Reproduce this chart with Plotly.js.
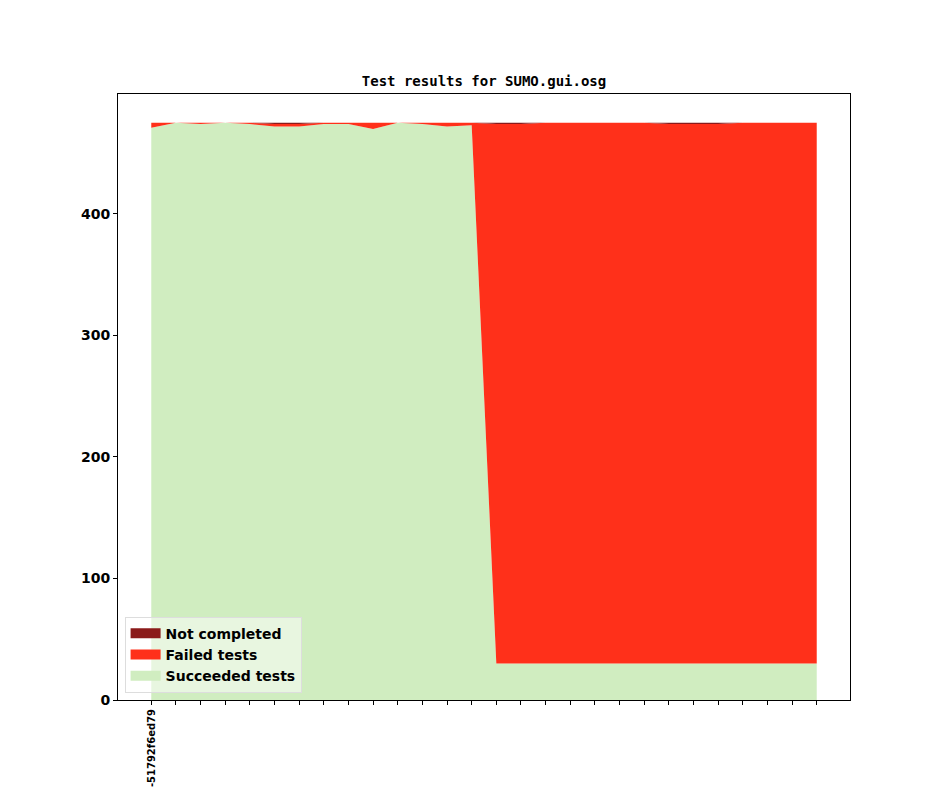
<!DOCTYPE html>
<html>
<head>
<meta charset="utf-8">
<script src="https://cdn.plot.ly/plotly-3.0.1.min.js"></script>
<style>html,body{margin:0;padding:0;background:#fff;}#chart{width:944px;height:787px;}</style>
</head>
<body>
<div id="chart"></div>
<script>
const revisions = ["-51792f6ed79","r1","r2","r3","r4","r5","r6","r7","r8","r9","r10","r11","r12","r13","r14","r15","r16","r17","r18","r19","r20","r21","r22","r23","r24","r25","r26","r27"];
const tickLabels = ["-51792f6ed79","","","","","","","","","","","","","","","","","","","","","","","","","","",""];
const succeeded = [471,475,474,475,474,472,472,474,474,470,475,474,472,473,30,30,30,30,30,30,30,30,30,30,30,30,30,30];
const notCompleted = [0,0,0,0,0,1,1,0,0,0,0,0,0,0,1,1,0,0,0,0,0,1,1,1,0,0,0,0];
const failed = [4,0,1,0,1,2,2,1,1,5,0,1,3,2,444,444,445,445,445,445,445,444,444,444,445,445,445,445];
const seriesNames = ['Succeeded tests', 'Failed tests', 'Not completed'];
const seriesColors = ['#d0edc0', '#ff301a', '#8b1a1a'];

const idx = revisions.map((_, i) => i);
const values = [succeeded, failed, notCompleted];
const traces = [];
values.forEach((v, k) => {
  traces.push({x: idx, y: v, mode: 'lines', stackgroup: 'one', line: {width: 0, color: seriesColors[k]}, fillcolor: seriesColors[k], hoverinfo: 'skip', showlegend: false, name: seriesNames[k]});
});
// legend entries
values.forEach((v, k) => {
  traces.push({x: [null], y: [null], mode: 'lines', line: {width: 10, color: seriesColors[k]}, name: seriesNames[k], hoverinfo: 'skip', showlegend: true});
});

const layout = {
  width: 944, height: 787,
  margin: {l: 118, r: 94, t: 94, b: 87},
  paper_bgcolor: '#fff', plot_bgcolor: '#fff',
  title: {text: 'Test results for SUMO.gui.osg', font: {family: 'DejaVu Sans Mono', size: 14, color: '#000', weight: 'bold'}, x: 0.5, xref: 'paper', xanchor: 'center', y: 1, yref: 'paper', yanchor: 'bottom', pad: {b: 8}},
  showlegend: true,
  legend: {x: 0.009, y: 0.012, xanchor: 'left', yanchor: 'bottom', traceorder: 'reversed', bgcolor: 'rgba(255,255,255,0.5)', bordercolor: '#dddddd', borderwidth: 1, font: {family: 'DejaVu Sans', size: 14, color: '#000', weight: 'bold'}, itemwidth: 30, tracegroupgap: 0},
  xaxis: {range: [-1.35, 28.35], tickmode: 'array', tickvals: idx, ticktext: tickLabels, tickangle: -90, ticks: 'outside', ticklen: 4, tickcolor: '#000', showgrid: false, zeroline: false, showline: true, linecolor: '#000', linewidth: 1, mirror: true, tickfont: {family: 'DejaVu Sans', size: 10, color: '#000', weight: 'bold'}},
  yaxis: {range: [0, 498.75], tickvals: [0,100,200,300,400], ticks: 'outside', ticklen: 4, tickcolor: '#000', showgrid: false, zeroline: false, showline: true, linecolor: '#000', linewidth: 1, mirror: true, tickfont: {family: 'DejaVu Sans', size: 14, color: '#000', weight: 'bold'}}
};
Plotly.newPlot('chart', traces, layout, {displayModeBar: false, staticPlot: true});
</script>
</body>
</html>
